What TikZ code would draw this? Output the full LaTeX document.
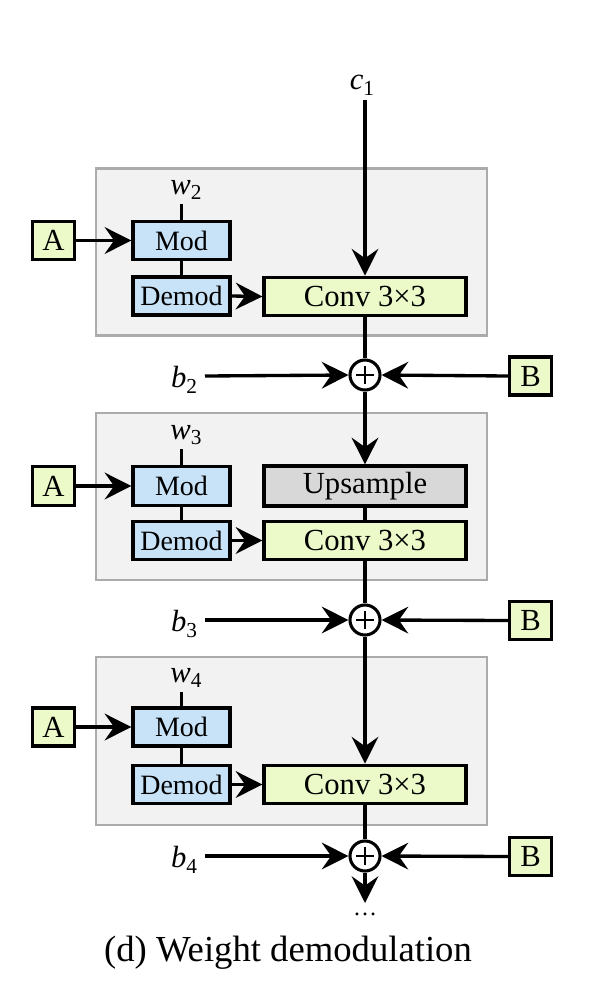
\documentclass[tikz,border=0pt]{standalone}
\usepackage{fontspec}
\setmainfont{Liberation Serif}
\usetikzlibrary{arrows.meta}
\definecolor{grpfill}{HTML}{F2F2F2}
\definecolor{grpline}{HTML}{ABABAB}
\definecolor{modblue}{HTML}{C8E3F8}
\definecolor{convgreen}{HTML}{EBFAC8}
\definecolor{upgray}{HTML}{D8D8D8}
\newcommand{\lbl}[2]{\textit{#1}\raisebox{-0.4ex}{\fontsize{16}{16}\selectfont #2}}
\tikzset{
  grp/.style={draw=grpline, fill=grpfill, line width=1.8pt, minimum width=293.25pt, minimum height=125pt, inner sep=0pt},
  bx/.style={draw, line width=2.4pt, inner sep=0pt},
  modbox/.style={bx, fill=modblue, minimum width=72.75pt, minimum height=29pt, font=\fontsize{21}{21}\selectfont},
  abox/.style={bx, fill=convgreen, minimum width=32pt, minimum height=29pt, font=\fontsize{23}{23}\selectfont},
  convbox/.style={bx, fill=convgreen, minimum width=151.5pt, minimum height=29pt, font=\fontsize{23}{23}\selectfont},
  upbox/.style={bx, fill=upgray, minimum width=151.5pt, minimum height=30pt, font=\fontsize{23}{23}\selectfont},
  plusnode/.style={circle, draw, line width=2.3pt, minimum size=22.5pt, inner sep=0pt, fill=white,
    path picture={\draw[line width=1.2pt] ([xshift=-6.75pt]path picture bounding box.center) -- ([xshift=6.75pt]path picture bounding box.center);
                  \draw[line width=1.2pt] ([yshift=-6.75pt]path picture bounding box.center) -- ([yshift=6.75pt]path picture bounding box.center);}},
  varlbl/.style={inner sep=0pt, font=\fontsize{23}{23}\selectfont},
  arr/.style={-{Stealth[length=20pt,width=20pt,inset=7pt]}, line width=2.5pt},
  ln/.style={line width=2.5pt},
}
\begin{document}
\begin{tikzpicture}[x=0.75pt,y=-0.75pt]
\useasboundingbox (0,0) rectangle (594,990);
% group backgrounds
\node[grp] (g1) at (291.5,252) {};
\node[grp, minimum height=125.25pt] (g2) at (291.5,496.5) {};
\node[grp, minimum height=126pt] (g3) at (291.5,741) {};

% block 1
\node[varlbl] (c1) at (362,85) {\lbl{c}{1}};
\coordinate (c1b) at (365,100);
\node[varlbl] (w2) at (186,190) {\lbl{w}{2}};
\coordinate (w2b) at (181.5,204);
\node[modbox] (mod1) at (181.5,240.5) {Mod};
\node[modbox, minimum height=28.5pt] (dem1) at (181.5,296) {Demod};
\node[abox] (a1) at (53.5,240.5) {A};
\node[convbox] (conv1) at (365,296.5) {Conv 3×3};
\node[plusnode] (p1) at (365,375) {};
\node[varlbl] (b2) at (184,380) {\lbl{b}{2}};
\coordinate (b2r) at (205,376);
\node[abox, minimum width=31pt, minimum height=28.5pt] (B1) at (530.5,376) {B};

\draw[arr] (c1b) -- (conv1.north);
\draw[ln] (w2b) -- (mod1.north);
\draw[ln] (mod1.south) -- (dem1.north);
\draw[arr] (a1.east) -- (mod1.west);
\draw[arr] (dem1.east) -- (conv1.west);
\draw[ln] (conv1.south) -- (p1.north);
\draw[arr] (b2r) -- (p1.west);
\draw[arr] (B1.west) -- (p1.east);

% block 2
\node[varlbl] (w3) at (186,435) {\lbl{w}{3}};
\coordinate (w3b) at (181.5,449);
\node[modbox] (mod2) at (181.5,486) {Mod};
\node[modbox] (dem2) at (181.5,540.5) {Demod};
\node[abox] (a2) at (53.5,486) {A};
\node[upbox] (up2) at (365,486) {Upsample};
\node[convbox] (conv2) at (365,540.5) {Conv 3×3};
\node[plusnode] (p2) at (365,620) {};
\node[varlbl] (b3) at (184,624) {\lbl{b}{3}};
\coordinate (b3r) at (205,620);
\node[abox, minimum width=31pt] (B2) at (530.5,620.5) {B};

\draw[arr] (p1.south) -- (up2.north);
\draw[ln] (up2.south) -- (conv2.north);
\draw[ln] (w3b) -- (mod2.north);
\draw[ln] (mod2.south) -- (dem2.north);
\draw[arr] (a2.east) -- (mod2.west);
\draw[arr] (dem2.east) -- (conv2.west);
\draw[ln] (conv2.south) -- (p2.north);
\draw[arr] (b3r) -- (p2.west);
\draw[arr] (B2.west) -- (p2.east);

% block 3
\node[varlbl] (w4) at (186,678) {\lbl{w}{4}};
\coordinate (w4b) at (181.5,692);
\node[modbox, minimum height=28.5pt] (mod3) at (181.5,727) {Mod};
\node[modbox] (dem3) at (181.5,784.5) {Demod};
\node[abox, minimum height=28.5pt] (a3) at (53.5,727) {A};
\node[convbox] (conv3) at (365,784.5) {Conv 3×3};
\node[plusnode] (p3) at (365,856) {};
\node[varlbl] (b4) at (184,860) {\lbl{b}{4}};
\coordinate (b4r) at (205,856);
\node[abox, minimum width=31pt] (B3) at (530.5,856.5) {B};
\coordinate (endp) at (365,903);
\node[varlbl] (dots) at (365,914) {\fontsize{18}{18}\selectfont\dots};

\draw[arr] (p2.south) -- (conv3.north);
\draw[ln] (w4b) -- (mod3.north);
\draw[ln] (mod3.south) -- (dem3.north);
\draw[arr] (a3.east) -- (mod3.west);
\draw[arr] (dem3.east) -- (conv3.west);
\draw[ln] (conv3.south) -- (p3.north);
\draw[arr] (b4r) -- (p3.west);
\draw[arr] (B3.west) -- (p3.east);
\draw[arr] (p3.south) -- (endp);

\node[inner sep=0pt, font=\fontsize{27.5}{27.5}\selectfont] (cap) at (288,953) {(d) Weight demodulation};
\end{tikzpicture}
\end{document}
